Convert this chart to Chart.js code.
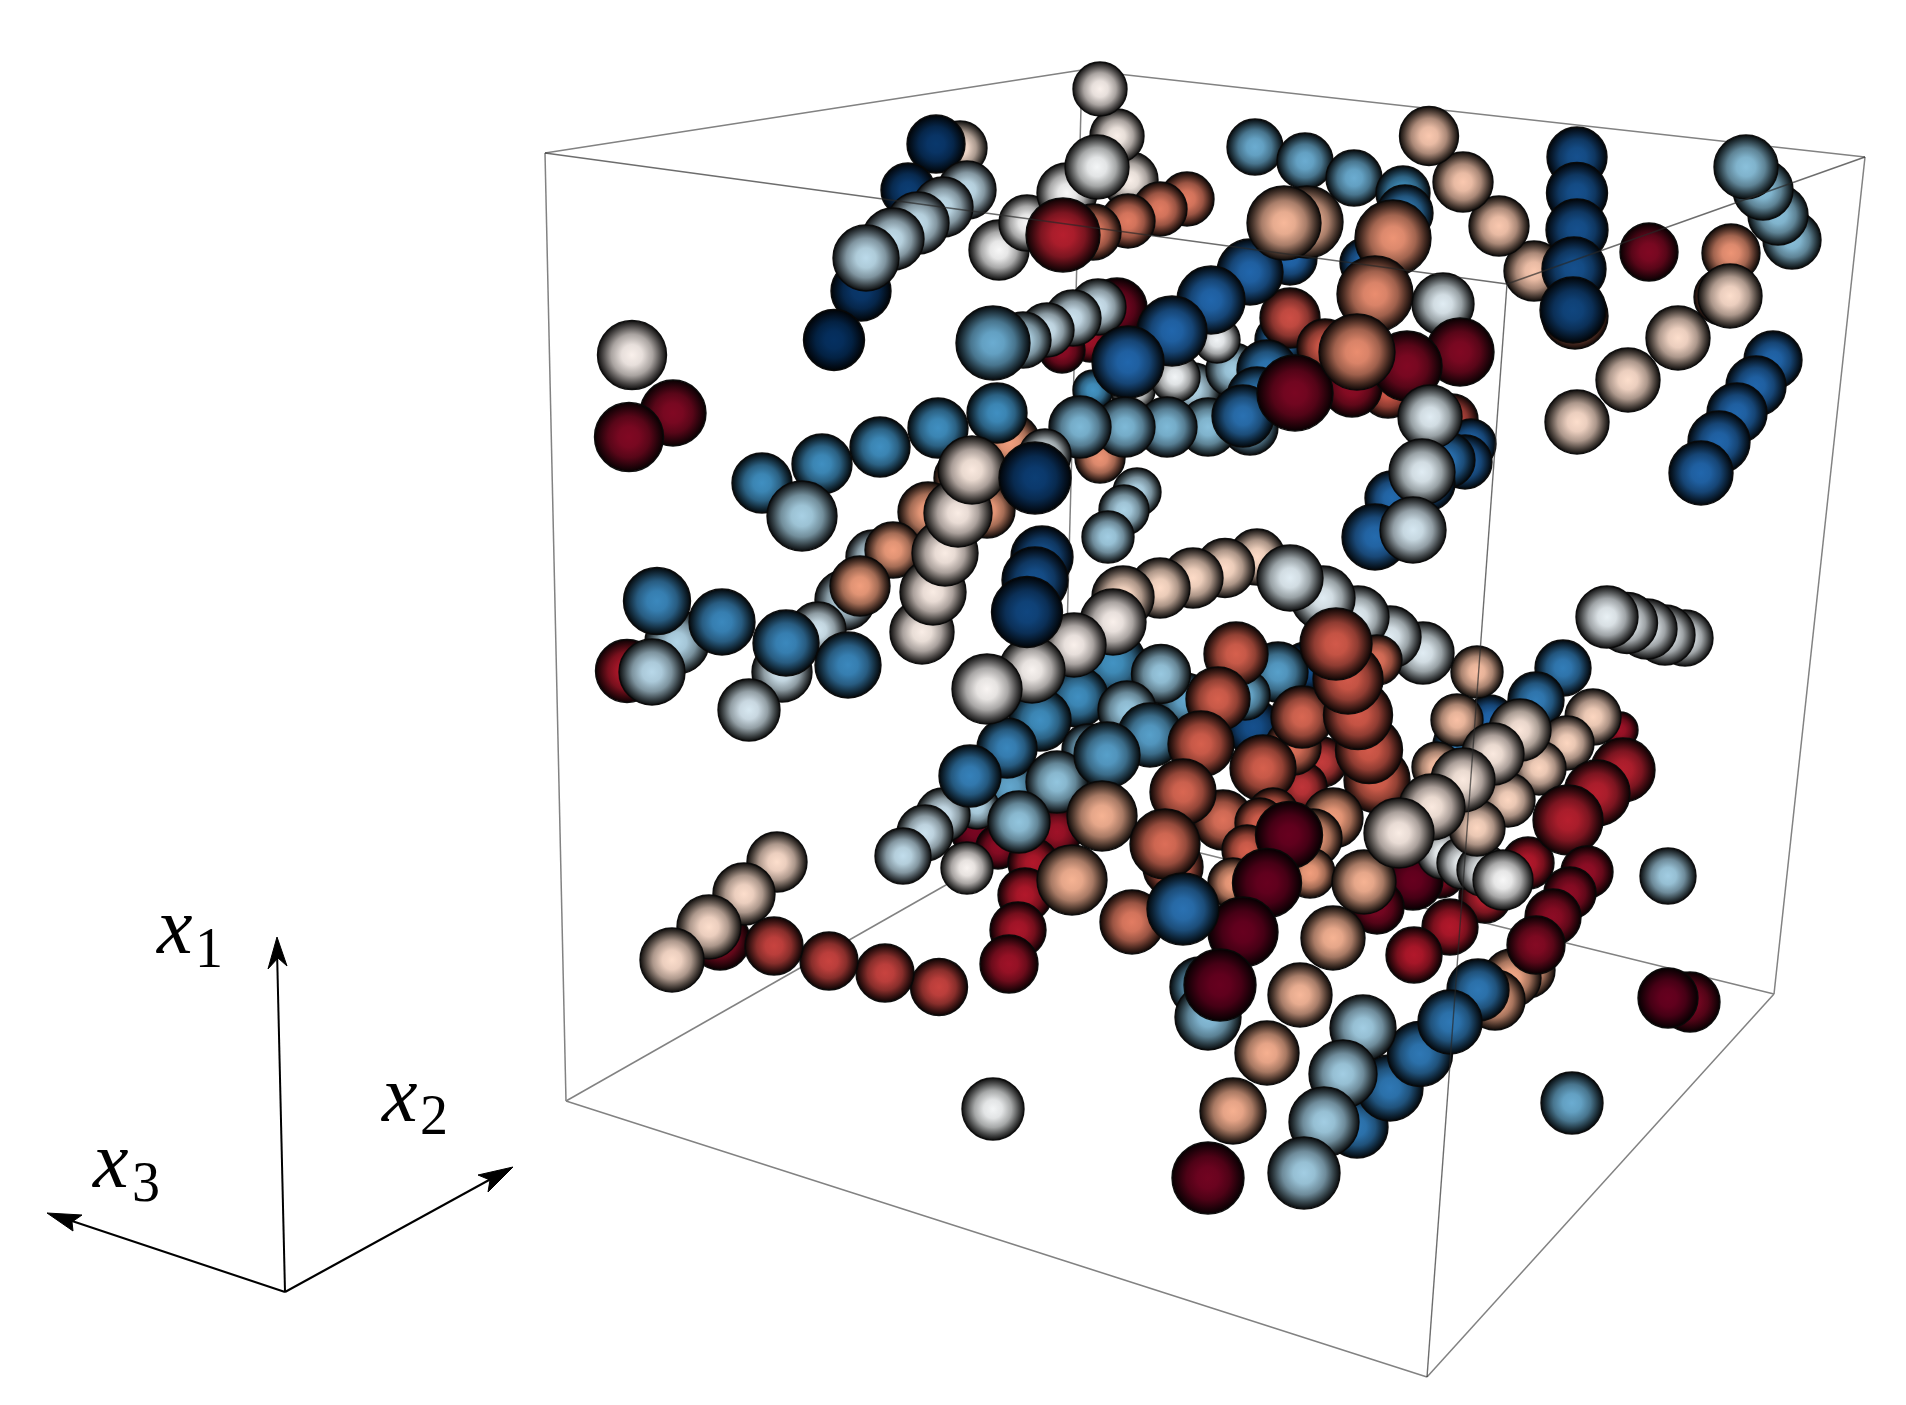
<!DOCTYPE html>
<html>
<head>
<meta charset="utf-8">
<title>Spheres in a box</title>
<script src="https://cdn.jsdelivr.net/npm/chart.js@4/dist/chart.umd.min.js"></script>
<style>
  html, body { margin: 0; padding: 0; background: #fff; }
  #wrap { width: 1906px; height: 1405px; }
</style>
</head>
<body>
<div id="wrap"><canvas id="chart"></canvas></div>
<script>
// every sphere is [x, y, size, value], value runs -1 (navy) to 1 (maroon)
// lists are written back to front, the later ones sit on top
const leftPair = [[673,413,33,.93],[632,355,34.5,.05],[629,437,34.5,.93]];
const topLeftChain = [[960,148,27,.15],[936,144,29,-.97],[908,190,27,-.95],[861,291,30,-.97],[834,340,30.5,-1],
  [967,190,29,-.25],[943,207,30,-.25],[918,223,31,-.25],[893,239,31,-.25],[866,258,33,-.27]];
const topWhites = [[1130,180,28,.06],[1117,136,27,.06],[1100,89,27,.05],[999,250,30,0],[1027,223,28,0],[1067,193,30,0],[1097,167,32,-.02],
  [1187,199,27,.52],[1160,209,27,.52],[1128,221,27,.52],[1093,232,28,.52],[1063,235,37,.78]];
const topBlueRow = [[1255,147,28,-.5],[1305,161,28,-.5],[1354,178,28,-.5],[1403,193,27,-.6],[1405,213,28,-.7]];
const tanChain = [[1534,271,30,.27],[1499,226,30,.27],[1463,182,30,.27],[1429,136,29.5,.27]];
const navyStack = [[1575,316,33,.5],[1577,157,30,-.88],[1577,193,30.5,-.88],[1577,230,31,-.88],[1574,269,32,-.88],[1573,310,33,-.92]];
const rightGroup = [[1649,252,29,.93],[1731,253,29,.45],[1722,297,28,.5],[1792,240,29,-.42],[1778,215,30,-.42],[1763,190,30,-.42],[1746,167,32,-.42],
  [1730,296,32,.18],[1678,338,32,.18],[1628,380,32,.18],[1577,422,32,.18],
  [1773,360,29,-.8],[1756,386,30,-.8],[1737,413,30,-.8],[1719,442,31,-.8],[1701,473,32,-.8]];
const centreBack = [[1093,390,20,-.6],[1193,390,27,-.3],[1233,370,27,-.35],[1133,390,22,-.02],[1175,377,25,-.03],[1217,340,23,-.03],
  [1117,308,30,.95],[1090,340,22,.85],[1062,350,23,.9],[1098,307,28,-.22],[1073,318,28,-.22],[1047,330,27,-.22],[1023,340,28,-.3],[993,343,37,-.5]];
const centreBlue = [[1280,340,25,-.75],[1290,318,30,.65],[1290,258,27,-.8],[1250,272,33,-.8],[1211,300,34,-.8],[1172,331,35,-.8],[1128,362,36,-.8],
  [1307,222,36,.33],[1284,223,37,.33]];
const blueArc = [[1100,458,25,.45],[1010,443,30,.42],[762,483,30,-.62],[822,464,30,-.62],[880,447,30,-.62],[938,428,30,-.62],[997,413,30,-.62],[802,516,35,-.33]];
const lightRow = [[1250,427,28,-.45],[1208,427,29,-.42],[1167,427,30,-.45],[1125,427,30,-.45],[1080,427,31,-.45],
  [1267,370,30,-.72],[1257,397,30,-.72],[1243,416,31,-.75]];
const centreReds = [[1365,263,25,-.8],[1388,390,28,.62],[1325,347,28,.62],[1352,387,30,.9],[1443,304,31,-.12],[1460,352,34,.93],[1407,366,35,.93],[1295,393,38,.95],
  [1393,238,38,.45],[1375,294,38,.47],[1357,352,38,.47]];
const rightWhites = [[1452,420,26,.65],[1471,444,25,-.8],[1465,462,27,-.8],[1447,460,28,-.75],[1427,483,28,-.8],[1392,498,27,-.78],[1375,537,33,-.78],
  [1430,417,32,-.12],[1422,472,33,-.12],[1413,530,33,-.18]];
const smallLight = [[1137,492,24,-.3],[1124,510,25,-.32],[1108,537,26,-.35]];
const midLeft = [[962,478,28,.42],[987,510,28,.42],[928,512,30,.42],[873,557,27,-.25],[893,550,28,.42],[845,600,30,-.25],[818,630,28,-.2],[860,586,30,.42],
  [922,632,32,.07],[933,592,33,.08],[945,553,33,.08],[958,513,34,.08],[972,470,34,.1],[1045,455,26,-.12],[1035,478,36,-.95]];
const blueRow = [[627,671,31.5,.8],[677,642,32,-.3],[782,672,30,-.2],[749,710,31,-.17],[657,601,33.5,-.65],[722,622,33,-.65],[786,643,33,-.65],[848,665,33,-.65],[652,672,33,-.28]];
const arcs = [[1257,557,28,.2],[1225,568,29.5,.2],[1193,578,30,.2],[1160,588,30,.2],[1123,597,31,.2],
  [1423,653,31,-.12],[1390,637,31,-.12],[1358,617,31,-.12],[1323,598,32,-.12],[1290,578,33,-.12]];
const whiteRow = [[1685,638,28,-.08],[1665,635,30,-.08],[1647,629,30,-.08],[1627,623,30.5,-.08],[1607,617,31,-.08]];
const blueCluster = [[1306,667,25,-.88],[1253,727,28,-.88],[1113,663,33,-.6],[1078,697,30,-.62],[1185,700,27,-.52],[1040,720,31,-.62],[1010,787,30,-.52],
  [1161,674,29.5,-.38],[1127,710,29,-.38],[1088,750,26,-.45],[1007,748,30,-.66]];
const lowLeftReds = [[975,830,25,.95],[998,847,22,.9],[1057,832,25,.85],[1033,863,25,.8],[1025,895,27,.8],[1018,930,28,.82],[1009,964,29,.85]];
const lowLeftLights = [[977,807,22,-.3],[943,815,27,-.22],[925,833,28,-.22],[903,856,28,-.25],[970,776,31,-.68],[1057,782,31,-.4],[1019,822,31,-.4],[967,868,26,.03],
  [1278,672,30,-.55],[1245,695,25,-.5],[1150,735,32,-.55],[1107,755,33,-.55],[1102,816,35,.35],[1072,880,35,.35]];
const whiteCurve = [[1113,622,33,.05],[1074,645,32,.05],[1032,670,33,.03],[987,689,35,.02],[1042,557,31,-.88],[1035,580,33,-.88],[1027,612,35.5,-.92]];
const redChain = [[1223,820,30,.55],[1173,867,30,.58],[1236,654,32,.6],[1218,699,32,.6],[1201,744,33,.6],[1183,792,33,.58],[1165,844,35,.56],
  [1322,762,25,.7],[1302,787,25,.72],[1293,747,28,.55],[1302,717,31,.58],[1263,768,33,.6],
  [1377,660,25,.55],[1377,780,33,.6],[1369,750,33.5,.62],[1358,715,34.5,.62],[1348,679,35,.62],[1336,644,36,.62]];
const maroons = [[1333,818,30,.42],[1313,838,29,.42],[1273,813,25,.6],[1260,823,25,.6],[1247,850,25,.6],[1233,883,25,.42],[1310,873,25,.42],[1132,922,32,.52],
  [1289,835,33.5,1],[1267,883,34.5,1],[1243,932,35,1],[1183,909,36,-.75],[1200,987,30,-.5],[1208,1017,33,-.43],[1220,985,36,1]];
const lowerRight = [[1563,668,28,-.7],[1536,700,28,-.7],[1490,720,25,-.8],[1458,745,25,-.7],[1477,672,26,.3],[1457,720,26,.3],[1437,767,25,.3],
  [1620,730,18,.85],[1528,863,26,.8],[1485,897,26,.78],[1440,873,25,.9],[1413,880,30,1],[1377,907,27,.95],
  [1443,853,26,-.05],[1463,863,26,-.05],[1483,870,26,-.05],
  [1593,717,28,.22],[1567,743,27,.22],[1539,768,27,.22],[1508,800,27,.22],[1477,828,28,.22],[1503,880,30,0],[1364,882,32,.35],
  [1520,730,31,.12],[1493,754,31,.1],[1463,780,32,.1],[1432,807,33,.1],[1399,833,35,.08],
  [1623,770,32,.78],[1597,793,33,.78],[1568,820,35,.78],[1587,872,26,.88],[1570,893,26,.9],[1553,917,28,.9]];
const bottomChain = [[1527,970,28,.38],[1512,978,29,.38],[1495,1000,30,.38],[1536,945,29,.92],
  [1478,990,31,-.72],[1357,1127,31,-.72],[1390,1088,33,-.72],[1420,1054,32.5,-.72],[1450,1022,32,-.72],
  [1450,927,28,.8],[1414,955,28,.8],[1333,938,32,.35],[1300,995,32,.33],[1267,1053,32,.36],[1233,1111,33,.36],[1208,1178,36,.97],
  [1363,1028,33,-.35],[1343,1074,34,-.35],[1324,1122,35,-.35],[1304,1173,36,-.35]];
const lowerLeft = [[720,940,30,.9],[777,862,30,.18],[744,894,31,.18],[709,927,32,.18],[672,960,32,.18],
  [939,987,28.5,.68],[885,973,29,.68],[829,961,29,.68],[774,946,29,.68]];
const singles = [[1572,1103,31,-.5],[1668,876,28,-.35],[1690,1002,30,.95],[1668,998,30,1],[993,1109,31,-.02]];

const spheres = [...leftPair, ...topLeftChain, ...topWhites, ...topBlueRow, ...tanChain, ...navyStack, ...rightGroup,
  ...centreBack, ...centreBlue, ...blueArc, ...lightRow, ...centreReds, ...rightWhites, ...smallLight, ...midLeft, ...blueRow,
  ...arcs, ...whiteRow, ...blueCluster, ...lowLeftReds, ...lowLeftLights, ...whiteCurve, ...redChain, ...maroons,
  ...lowerRight, ...bottomChain, ...lowerLeft, ...singles];

// box corners
const cornerTopLeft = [545,153], cornerTopBack = [1082,70], cornerTopRight = [1865,157], cornerTopFront = [1507,284];
const cornerLowLeft = [566,1101], cornerLowBack = [1062,819], cornerLowRight = [1774,994], cornerLowFront = [1427,1377];
const backEdges = [[cornerTopLeft,cornerTopBack],[cornerTopBack,cornerTopRight],[cornerTopBack,cornerLowBack],[cornerLowBack,cornerLowLeft],[cornerLowBack,cornerLowRight],
  [cornerTopLeft,cornerLowLeft],[cornerTopRight,cornerLowRight],[cornerLowLeft,cornerLowFront],[cornerLowFront,cornerLowRight]];
const frontEdges = [[cornerTopLeft,cornerTopFront],[cornerTopFront,cornerTopRight],[cornerTopFront,cornerLowFront]];

// small axis triad
const triadOrigin = [285,1292];
const arrowShafts = [[277,950],[500,1174],[60,1217]];
const arrowHeads = [
  [[277,937],[268,969],[278,958],[287,966],[277,937]],
  [[513,1167],[478,1175],[490,1180],[488,1192],[513,1167]],
  [[47,1213],[82,1215],[72,1222],[73,1231],[47,1213]]
];
const axisLabels = [
  { name:'x', sub:'1', at:[157,953], subAt:[195,967] },
  { name:'x', sub:'2', at:[382,1121], subAt:[420,1134] },
  { name:'x', sub:'3', at:[93,1187], subAt:[132,1201] }
];

const rdbu = [[5,48,97],[33,102,172],[67,147,195],[146,197,222],[209,229,240],[247,247,247],[253,219,199],[244,165,130],[214,96,77],[178,24,43],[103,0,31]];

const sphereBorder = 1.4;
// Chart.js keeps the biggest bubble inside the canvas by insetting the plot, so the axes start and end at that inset
const plotInset = Math.max(...spheres.map(s => s[2])) + sphereBorder;

function colorAt(v){
  const t = (v + 1) * 5;
  const i = Math.min(Math.floor(t), 9);
  const f = t - i;
  return rdbu[i].map((c,k) => c + (rdbu[i+1][k] - c) * f);
}
function shade(rgb, f){
  return 'rgb(' + rgb.map(c => Math.round(c * f)).join(',') + ')';
}
function sphereFill(context){
  const s = spheres[context.dataIndex];
  if (!s) return '#888';
  const {x, y} = context.chart.scales;
  const px = x.getPixelForValue(s[0]);
  const py = y.getPixelForValue(s[1]);
  // scales have no size yet on the first pass
  if (!isFinite(px) || !isFinite(py)) return '#888';
  const g = context.chart.ctx.createRadialGradient(px, py, 0, px, py, s[2]);
  const rgb = colorAt(s[3]);
  g.addColorStop(0, shade(rgb, 1));
  g.addColorStop(.3, shade(rgb, .93));
  g.addColorStop(.6, shade(rgb, .68));
  g.addColorStop(.84, shade(rgb, .3));
  g.addColorStop(1, shade(rgb, .06));
  return g;
}
function toPoints(list){
  return list.map(p => ({x:p[0], y:p[1]}));
}
function edgeSet(edges, color, width, order){
  return edges.map(e => ({
    type:'line', data:toPoints(e), borderColor:color, borderWidth:width,
    pointRadius:0, order:order, clip:false
  }));
}

const labelPlugin = {
  id:'axisLabelText',
  afterDatasetsDraw(chart){
    const {ctx, scales} = chart;
    ctx.save();
    ctx.fillStyle = '#000';
    ctx.textBaseline = 'alphabetic';
    axisLabels.forEach(l => {
      ctx.font = 'italic 80px "Liberation Serif"';
      ctx.fillText(l.name, scales.x.getPixelForValue(l.at[0]), scales.y.getPixelForValue(l.at[1]));
      ctx.font = '56px "Liberation Serif"';
      ctx.fillText(l.sub, scales.x.getPixelForValue(l.subAt[0]), scales.y.getPixelForValue(l.subAt[1]));
    });
    ctx.restore();
  }
};

const chart = new Chart(document.querySelector('#chart').getContext('2d'), {
  type:'bubble',
  data:{
    datasets:[
      ...edgeSet(frontEdges, 'rgba(40,40,40,0.68)', 1.4, 0),
      {
        type:'bubble',
        label:'spheres',
        data:spheres.map(s => ({x:s[0], y:s[1], r:s[2]})),
        backgroundColor:sphereFill,
        borderColor:'rgba(8,8,8,0.95)',
        borderWidth:sphereBorder,
        hoverRadius:0,
        order:1,
        clip:false
      },
      ...edgeSet(backEdges, '#828282', 1.5, 2),
      ...arrowShafts.map(end => ({
        type:'line', data:toPoints([triadOrigin, end]), borderColor:'#000', borderWidth:2,
        pointRadius:0, order:3
      })),
      ...arrowHeads.map(head => ({
        type:'line', data:toPoints(head), borderColor:'#000', borderWidth:1, backgroundColor:'#000',
        fill:'shape', pointRadius:0, order:3, tension:0
      }))
    ]
  },
  options:{
    responsive:true,
    maintainAspectRatio:false,
    animation:false,
    events:[],
    layout:{padding:0},
    plugins:{legend:{display:false}, tooltip:{enabled:false}, title:{display:false}},
    scales:{
      x:{type:'linear', min:plotInset, max:1906 - plotInset, display:false},
      y:{type:'linear', min:plotInset, max:1405 - plotInset, reverse:true, display:false}
    }
  },
  plugins:[labelPlugin]
});
</script>
</body>
</html>
